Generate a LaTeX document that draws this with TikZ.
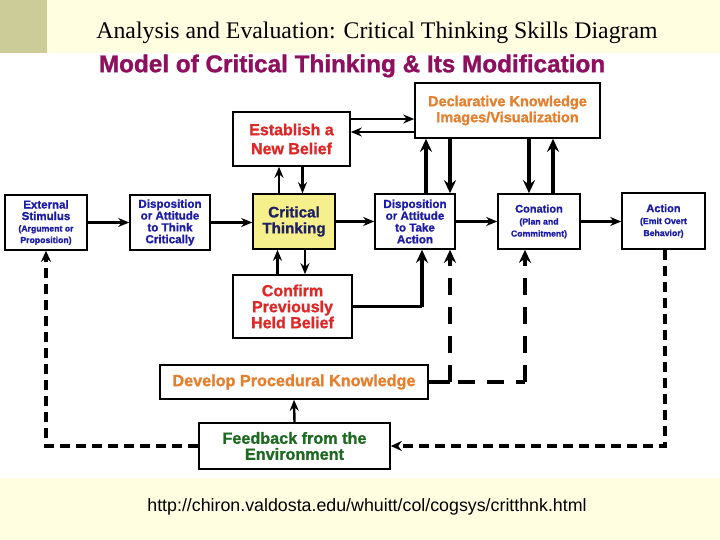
\documentclass[tikz,border=0pt]{standalone}
\usepackage{fontspec}
\setmainfont{Liberation Serif}
\newfontfamily\hv{Liberation Sans}
\newfontfamily\hvk[FakeBold=1.2]{Liberation Sans Bold}
\usetikzlibrary{arrows.meta}
\definecolor{bandy}{HTML}{FFFEE1}
\definecolor{olive}{HTML}{CCCC99}
\definecolor{magt}{HTML}{8E0F5E}
\definecolor{bluet}{HTML}{1C1CA6}
\definecolor{redt}{HTML}{DD2828}
\definecolor{orat}{HTML}{E57F2C}
\definecolor{greent}{HTML}{1F6A22}
\definecolor{yelf}{HTML}{F6F08C}
\definecolor{navyt}{HTML}{1E2060}
\newcommand\fsz[2]{\fontsize{#1}{#2}\selectfont}
\tikzset{
  box/.style={draw=black, line width=1.6pt, fill=white, align=center, inner sep=0pt},
  arr/.style={-{Stealth[length=11pt,width=9pt]}, line width=2.4pt},
  tarr/.style={-{Stealth[length=13pt,width=12pt]}, line width=4pt},
  loopd/.style={line width=3.5pt, dash pattern=on 10pt off 6pt},
  devd/.style={line width=4pt, dash pattern=on 17pt off 12pt},
}
\begin{document}
\begin{tikzpicture}[x=1pt,y=-1pt]
\useasboundingbox (0,0) rectangle (720,540);
\fill[white] (0,0) rectangle (720,540);
\fill[bandy] (0,0) rectangle (720,53);
\fill[olive] (0,0) rectangle (47,53);
\fill[bandy] (0,478) rectangle (720,540);
\node[font=\fsz{23.8}{26}] (ttl) at (377,33) {Analysis and Evaluation: Critical Thinking Skills Diagram};
\node[font=\hvk\fsz{24.3}{26}, text=magt] (mdl) at (352,66) {Model of Critical Thinking \& Its Modification};
\node[font=\hv\fsz{17.8}{20}] (url) at (367,507) {http://chiron.valdosta.edu/whuitt/col/cogsys/critthnk.html};

\node[box, minimum width=185pt, minimum height=55pt, text=orat, font=\hvk\fsz{14.5}{16}] (decl) at (507.5,110.5) {Declarative Knowledge\\Images/Visualization};
\node[box, minimum width=117pt, minimum height=54pt, text=redt, font=\hvk\fsz{16}{19}] (estab) at (291.5,139) {Establish a\\New Belief};
\node[box, minimum width=82pt, minimum height=55pt, text=bluet, font=\hvk\fsz{11.5}{11.5}] (ext) at (46,222.5) {External\\Stimulus\\{\fsz{8.7}{12}(Argument or}\\{\fsz{8.7}{12}Proposition)}};
\node[box, minimum width=80pt, minimum height=55pt, text=bluet, font=\hvk\fsz{11.6}{11.8}] (dthink) at (170,222.5) {Disposition\\or Attitude\\to Think\\Critically};
\node[box, fill=yelf, minimum width=82pt, minimum height=55pt, text=navyt, font=\hvk\fsz{15.2}{16}] (crit) at (294,221.5) {Critical\\Thinking};
\node[box, minimum width=80pt, minimum height=55pt, text=bluet, font=\hvk\fsz{11.6}{11.8}] (dact) at (415,221.5) {Disposition\\or Attitude\\to Take\\Action};
\node[box, minimum width=82pt, minimum height=55pt, text=bluet, font=\hvk\fsz{11}{12}] (con) at (539,221.5) {Conation\\{\fsz{8.7}{11.5}(Plan and}\\{\fsz{8.7}{11.5}Commitment)}};
\node[box, minimum width=83pt, minimum height=56pt, text=bluet, font=\hvk\fsz{11}{12}] (act) at (663.5,221) {Action\\{\fsz{8.7}{11.5}(Emit Overt}\\{\fsz{8.7}{11.5}Behavior)}};
\node[box, minimum width=119pt, minimum height=63pt, text=redt, font=\hvk\fsz{16}{16}] (conf) at (292.5,306.5) {Confirm\\Previously\\Held Belief};
\node[box, minimum width=268pt, minimum height=34pt, text=orat, font=\hvk\fsz{16.2}{16}] (dev) at (294,382) {Develop Procedural Knowledge};
\node[box, minimum width=191pt, minimum height=46pt, text=greent, font=\hvk\fsz{16.2}{16}] (feed) at (294.5,446) {Feedback from the\\Environment};

% main row
\draw[arr] (ext.east) -- (ext.east -| dthink.west);
\draw[arr] (dthink.east) -- (dthink.east -| crit.west);
\draw[arr] (crit.east) -- (crit.east -| dact.west);
\draw[arr] (dact.east) -- (dact.east -| con.west);
\draw[arr] (con.east) -- (con.east -| act.west);
% critical <-> establish / confirm
\draw[arr] ([xshift=-15pt]crit.north) -- ([xshift=-15pt]crit.north |- estab.south);
\draw[arr] ([xshift=11pt]estab.south) -- ([xshift=11pt]estab.south |- crit.north);
\draw[arr] ([xshift=-15pt]conf.north) -- ([xshift=-15pt]conf.north |- crit.south);
\draw[arr] ([xshift=11pt]crit.south) -- ([xshift=11pt]crit.south |- conf.north);
% establish <-> declarative
\draw[arr] ([yshift=20pt]estab.east) -- ([yshift=20pt]estab.east -| decl.west);
\draw[arr] ([yshift=7pt]estab.east -| decl.west) -- ([yshift=7pt]estab.east);
% disposition/conation <-> declarative
\draw[tarr] ([xshift=11pt]dact.north) -- ([xshift=11pt]dact.north |- decl.south);
\draw[tarr] ([xshift=35pt]dact.north |- decl.south) -- ([xshift=35pt]dact.north);
\draw[tarr] ([xshift=-10pt]con.north |- decl.south) -- ([xshift=-10pt]con.north);
\draw[tarr] ([xshift=14pt]con.north) -- ([xshift=14pt]con.north |- decl.south);
% confirm -> disposition to act
\coordinate (cc) at ([xshift=7pt]dact.south |- conf.east);
\draw[line width=2.4pt] (conf.east) -- (cc);
\draw[tarr] (cc) -- ([xshift=7pt]dact.south);
% develop dashed
\coordinate (d1) at ([xshift=35pt]dact.south |- dev.east);
\coordinate (d2) at ([xshift=-14pt]con.south |- dev.east);
\draw[line width=4pt] (dev.east) -- (d1);
\draw[devd, -{Stealth[length=13pt,width=12pt]}] (d1) -- ([xshift=35pt]dact.south);
\draw[devd] ([xshift=8pt]d1) -- (d2);
\draw[devd, -{Stealth[length=13pt,width=12pt]}] (d2) -- ([xshift=-14pt]con.south);
% feedback
\draw[arr] (feed.north) -- (dev.south);
\coordinate (fa) at ([xshift=1.5pt]act.south |- feed.east);
\draw[loopd, -{Stealth[length=11pt,width=10pt]}] ([xshift=1.5pt]act.south) -- (fa) -- (feed.east);
\coordinate (fe) at (ext.south |- feed.west);
\draw[loopd, -{Stealth[length=11pt,width=10pt]}] (feed.west) -- (fe) -- (ext.south);
\end{tikzpicture}
\end{document}
